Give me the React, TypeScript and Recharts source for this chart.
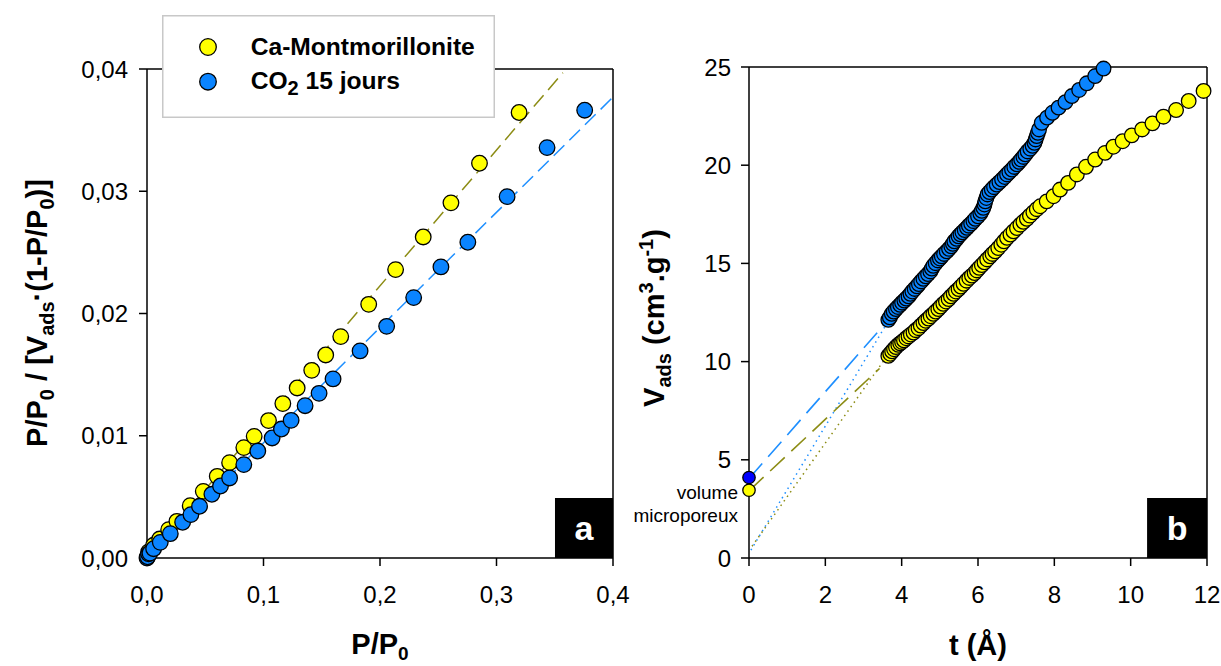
import React from 'react';
import {
  ComposedChart,
  Scatter,
  Line,
  XAxis,
  YAxis,
  ReferenceArea,
  ReferenceLine,
  Legend,
} from 'recharts';

const FONT = '"Liberation Sans", Arial, Helvetica, sans-serif';
const YELLOW = '#FFFF00';
const BLUE = '#0A84FF';
const OLIVE = '#8C8C14';
const LINE_BLUE = '#1E8FFF';
const DARK_BLUE = '#0000FF';

// ---------- Panel a : BET plot ----------
const aXTicks = [0, 0.1, 0.2, 0.3, 0.4];
const aYTicks = [0, 0.01, 0.02, 0.03, 0.04];

const caX = [0.0003, 0.0014, 0.0057, 0.0109, 0.0186, 0.0257, 0.0371, 0.0483, 0.0603, 0.0709, 0.0831, 0.092, 0.1043, 0.1166, 0.1289, 0.1414, 0.1534, 0.1663, 0.1903, 0.2134, 0.2371, 0.2609, 0.2854, 0.3194];
const caY = [0.0001, 0.0005, 0.00104, 0.00155, 0.00232, 0.003, 0.00428, 0.00545, 0.00668, 0.0078, 0.00903, 0.00995, 0.01124, 0.01263, 0.01391, 0.01535, 0.01661, 0.01811, 0.02075, 0.02359, 0.02626, 0.02905, 0.03229, 0.03644];

const co2X = [0.0, 0.0005, 0.0014, 0.0025, 0.0057, 0.0114, 0.02, 0.0306, 0.0377, 0.0451, 0.0557, 0.0631, 0.0709, 0.0831, 0.0951, 0.1074, 0.1154, 0.1237, 0.1357, 0.1477, 0.1597, 0.1829, 0.2057, 0.2289, 0.2523, 0.2754, 0.3091, 0.3434, 0.3757];
const co2Y = [0.0, 0.0001, 0.00035, 0.0004, 0.00076, 0.00128, 0.00199, 0.00292, 0.00355, 0.00423, 0.00521, 0.00589, 0.00655, 0.00764, 0.00875, 0.00982, 0.01055, 0.01126, 0.01246, 0.01347, 0.01465, 0.01694, 0.01895, 0.0213, 0.02381, 0.02583, 0.02956, 0.03357, 0.03663];

const fitCaX = [0, 0.357];
const fitCaY = [0.00005, 0.0397];
const fitCo2X = [0, 0.4];
const fitCo2Y = [0, 0.0377];

// ---------- Panel b : t-plot ----------
const bXTicks = [0, 2, 4, 6, 8, 10, 12];
const bYTicks = [0, 5, 10, 15, 20, 25];

const caT = [3.65, 3.7, 3.75, 3.8, 3.85, 3.91, 3.96, 4.01, 4.06, 4.12, 4.18, 4.24, 4.31, 4.37, 4.44, 4.5, 4.57, 4.63, 4.7, 4.76, 4.83, 4.89, 4.96, 5.02, 5.09, 5.16, 5.23, 5.29, 5.36, 5.42, 5.49, 5.55, 5.62, 5.7, 5.77, 5.84, 5.91, 5.97, 6.03, 6.1, 6.17, 6.24, 6.32, 6.38, 6.45, 6.53, 6.61, 6.68, 6.76, 6.85, 6.93, 7.02, 7.11, 7.19, 7.28, 7.36, 7.45, 7.54, 7.63, 7.8, 7.98, 8.15, 8.36, 8.59, 8.83, 9.07, 9.33, 9.55, 9.79, 10.03, 10.3, 10.57, 10.86, 11.19, 11.52, 11.91];
const caV = [10.29, 10.4, 10.52, 10.63, 10.74, 10.85, 10.93, 11.0, 11.08, 11.19, 11.28, 11.38, 11.48, 11.6, 11.7, 11.83, 11.96, 12.08, 12.19, 12.31, 12.43, 12.55, 12.67, 12.8, 12.94, 13.06, 13.18, 13.32, 13.45, 13.57, 13.69, 13.82, 13.96, 14.12, 14.26, 14.38, 14.51, 14.64, 14.77, 14.91, 15.05, 15.2, 15.36, 15.48, 15.61, 15.78, 15.95, 16.12, 16.3, 16.47, 16.63, 16.8, 16.97, 17.12, 17.27, 17.43, 17.6, 17.76, 17.91, 18.16, 18.42, 18.76, 19.1, 19.53, 19.92, 20.29, 20.63, 20.94, 21.22, 21.52, 21.82, 22.13, 22.47, 22.81, 23.27, 23.78];

const co2T = [3.65, 3.69, 3.74, 3.79, 3.85, 3.9, 3.96, 4.01, 4.07, 4.12, 4.18, 4.23, 4.28, 4.34, 4.4, 4.45, 4.51, 4.57, 4.63, 4.69, 4.75, 4.79, 4.83, 4.89, 4.95, 5.0, 5.05, 5.11, 5.18, 5.24, 5.3, 5.34, 5.38, 5.44, 5.49, 5.54, 5.59, 5.65, 5.71, 5.76, 5.82, 5.88, 5.93, 6.0, 6.06, 6.1, 6.14, 6.17, 6.19, 6.22, 6.25, 6.3, 6.36, 6.42, 6.49, 6.56, 6.63, 6.7, 6.76, 6.82, 6.89, 6.95, 7.02, 7.08, 7.13, 7.19, 7.24, 7.3, 7.37, 7.43, 7.48, 7.51, 7.54, 7.57, 7.6, 7.67, 7.81, 7.95, 8.11, 8.29, 8.46, 8.65, 8.85, 9.07, 9.29];
const co2V = [12.13, 12.25, 12.43, 12.55, 12.67, 12.78, 12.89, 13.0, 13.11, 13.21, 13.32, 13.45, 13.57, 13.7, 13.83, 13.95, 14.08, 14.21, 14.34, 14.46, 14.59, 14.74, 14.88, 15.01, 15.15, 15.25, 15.36, 15.48, 15.61, 15.74, 15.87, 16.0, 16.12, 16.25, 16.38, 16.48, 16.58, 16.7, 16.81, 16.92, 17.03, 17.15, 17.27, 17.4, 17.54, 17.68, 17.83, 18.0, 18.16, 18.33, 18.51, 18.63, 18.76, 18.88, 19.01, 19.14, 19.27, 19.4, 19.53, 19.65, 19.78, 19.91, 20.04, 20.17, 20.29, 20.42, 20.55, 20.7, 20.84, 20.99, 21.14, 21.31, 21.48, 21.65, 21.82, 22.16, 22.42, 22.67, 22.93, 23.21, 23.52, 23.83, 24.17, 24.54, 24.92];

// micropore volume intercepts (t = 0)
const microCaT = [0];
const microCaV = [3.45];
const microCo2T = [0];
const microCo2V = [4.1];

// extrapolation lines
const dashCaT = [0, 3.42];
const dashCaV = [3.42, 9.65];
const dashCo2T = [0, 3.6];
const dashCo2V = [4.05, 12.0];
const dotCaT = [0.08, 3.55];
const dotCaV = [0.6, 10.1];
const dotCo2T = [0.05, 3.6];
const dotCo2V = [0.4, 11.9];

const zip = (xs: number[], ys: number[]) => xs.map((x, i) => ({ x, y: ys[i] }));

const dot = (fill: string, r: number) => (props: any) => {
  if (props.cx == null || props.cy == null) return <g />;
  return <circle cx={props.cx} cy={props.cy} r={r} fill={fill} stroke="#000" strokeWidth={1.3} />;
};

const axisStyle = { stroke: '#000', strokeWidth: 1.5 };
const tickStyle = { fontSize: 24, fill: '#000', fontFamily: FONT };

const fmtX = (v: number) => v.toFixed(1).replace('.', ',');
const fmtY = (v: number) => v.toFixed(2).replace('.', ',');

const LegendBox = () => (
  <svg width={333} height={103} style={{ display: 'block' }}>
    <rect x={0.75} y={0.75} width={331.5} height={101.5} fill="#fff" stroke="#c8c8c8" strokeWidth={1.5} />
    <circle cx={46} cy={32} r={8.3} fill={YELLOW} stroke="#000" strokeWidth={1.3} />
    <circle cx={46} cy={66.7} r={8.3} fill={BLUE} stroke="#000" strokeWidth={1.3} />
    <text x={88.7} y={40} fontSize={24.6} fontWeight="bold" fontFamily={FONT} fill="#000">
      Ca-Montmorillonite
    </text>
    <text x={88.7} y={74} fontSize={24.6} fontWeight="bold" fontFamily={FONT} fill="#000">
      <tspan>CO</tspan>
      <tspan fontSize={20} dy={6}>2</tspan>
      <tspan dy={-6}>{' 15 jours'}</tspan>
    </text>
  </svg>
);

export default function App() {
  return (
    <div
      style={{
        position: 'fixed',
        left: 0,
        top: 0,
        width: 1221,
        height: 666,
        background: '#fff',
        fontFamily: FONT,
        overflow: 'hidden',
      }}
    >
      <div style={{ position: 'absolute', left: 0, top: 0 }}>
        <ComposedChart width={640} height={666} margin={{ top: 69, right: 27, bottom: 28, left: 47 }}>
          <XAxis
            type="number"
            dataKey="x"
            domain={[0, 0.4]}
            ticks={aXTicks}
            tickFormatter={fmtX}
            height={80}
            axisLine={axisStyle}
            tickLine={axisStyle}
            tickSize={8}
            tickMargin={20}
            tick={tickStyle}
          />
          <YAxis
            type="number"
            domain={[0, 0.04]}
            ticks={aYTicks}
            tickFormatter={fmtY}
            width={100}
            axisLine={axisStyle}
            tickLine={axisStyle}
            tickSize={8}
            tickMargin={11}
            tick={tickStyle}
          />
          <ReferenceLine y={0.04} stroke="#000" strokeWidth={1.5} />
          <ReferenceLine x={0.4} stroke="#000" strokeWidth={1.5} />
          <ReferenceArea
            x1={0.3502}
            x2={0.4}
            y1={0}
            y2={0.0049}
            fill="#000"
            fillOpacity={1}
            stroke="none"
            label={{ value: 'a', position: 'center', fill: '#fff', fontSize: 34, fontWeight: 'bold' }}
          />
          <Line data={zip(fitCaX, fitCaY)} dataKey="y" type="linear" stroke={OLIVE} strokeWidth={1.5} strokeDasharray="15 7" dot={false} activeDot={false} isAnimationActive={false} />
          <Line data={zip(fitCo2X, fitCo2Y)} dataKey="y" type="linear" stroke={LINE_BLUE} strokeWidth={1.5} strokeDasharray="15 7" dot={false} activeDot={false} isAnimationActive={false} />
          <Scatter name="Ca-Montmorillonite" data={zip(caX, caY)} dataKey="y" fill={YELLOW} shape={dot(YELLOW, 7.8)} isAnimationActive={false} />
          <Scatter name="CO2 15 jours" data={zip(co2X, co2Y)} dataKey="y" fill={BLUE} shape={dot(BLUE, 7.8)} isAnimationActive={false} />
          <Legend
            layout="horizontal"
            verticalAlign="middle"
            align="center"
            content={() => <LegendBox />}
            wrapperStyle={{ position: 'absolute', left: 162, top: 15, width: 333, height: 103 }}
          />
        </ComposedChart>
      </div>

      <div style={{ position: 'absolute', left: 640, top: 0 }}>
        <ComposedChart width={581} height={666} margin={{ top: 67, right: 14, bottom: 28, left: 9 }}>
          <XAxis
            type="number"
            dataKey="x"
            domain={[0, 12]}
            ticks={bXTicks}
            height={80}
            axisLine={axisStyle}
            tickLine={axisStyle}
            tickSize={8}
            tickMargin={20}
            tick={tickStyle}
          />
          <YAxis
            type="number"
            domain={[0, 25]}
            ticks={bYTicks}
            width={100}
            axisLine={axisStyle}
            tickLine={axisStyle}
            tickSize={8}
            tickMargin={10}
            tick={tickStyle}
          />
          <ReferenceLine y={25} stroke="#000" strokeWidth={1.5} />
          <ReferenceLine x={12} stroke="#000" strokeWidth={1.5} />
          <ReferenceArea
            x1={10.43}
            x2={12}
            y1={0}
            y2={3.05}
            fill="#000"
            fillOpacity={1}
            stroke="none"
            label={{ value: 'b', position: 'center', fill: '#fff', fontSize: 34, fontWeight: 'bold' }}
          />
          <Line data={zip(dotCo2T, dotCo2V)} dataKey="y" type="linear" stroke={LINE_BLUE} strokeWidth={1.5} strokeDasharray="1.5 4" dot={false} activeDot={false} isAnimationActive={false} />
          <Line data={zip(dotCaT, dotCaV)} dataKey="y" type="linear" stroke={OLIVE} strokeWidth={1.5} strokeDasharray="1.5 4" dot={false} activeDot={false} isAnimationActive={false} />
          <Line data={zip(dashCo2T, dashCo2V)} dataKey="y" type="linear" stroke={LINE_BLUE} strokeWidth={1.6} strokeDasharray="20 9" dot={false} activeDot={false} isAnimationActive={false} />
          <Line data={zip(dashCaT, dashCaV)} dataKey="y" type="linear" stroke={OLIVE} strokeWidth={1.6} strokeDasharray="20 9" dot={false} activeDot={false} isAnimationActive={false} />
          <Scatter data={zip(caT, caV)} dataKey="y" fill={YELLOW} shape={dot(YELLOW, 7.3)} isAnimationActive={false} />
          <Scatter data={zip(co2T, co2V)} dataKey="y" fill={BLUE} shape={dot(BLUE, 7.3)} isAnimationActive={false} />
          <Scatter data={zip(microCaT, microCaV)} dataKey="y" fill={YELLOW} shape={dot(YELLOW, 6.2)} isAnimationActive={false} />
          <Scatter data={zip(microCo2T, microCo2V)} dataKey="y" fill={DARK_BLUE} shape={dot(DARK_BLUE, 6.2)} isAnimationActive={false} />
        </ComposedChart>
      </div>

      <svg
        width={1221}
        height={666}
        style={{ position: 'absolute', left: 0, top: 0, pointerEvents: 'none' }}
        fontFamily={FONT}
      >
        {/* panel a axis titles */}
        <text x={380} y={654} textAnchor="middle" fontSize={29} fontWeight="bold" fill="#000">
          <tspan>P/P</tspan>
          <tspan fontSize={19} dy={6}>0</tspan>
        </text>
        <text transform="translate(47,313) rotate(-90)" x={0} y={0} textAnchor="middle" fontSize={29} fontWeight="bold" fill="#000">
          <tspan>P/P</tspan>
          <tspan fontSize={20} dy={7}>0</tspan>
          <tspan dy={-7}>{' / [V'}</tspan>
          <tspan fontSize={20} dy={7}>ads</tspan>
          <tspan dy={-7}>{'·(1-P/P'}</tspan>
          <tspan fontSize={20} dy={7}>0</tspan>
          <tspan dy={-7}>{')]'}</tspan>
        </text>

        {/* panel b axis titles */}
        <text x={978} y={655} textAnchor="middle" fontSize={29} fontWeight="bold" fill="#000">
          t (Å)
        </text>
        <text transform="translate(664,318) rotate(-90)" x={0} y={0} textAnchor="middle" fontSize={29} fontWeight="bold" fill="#000">
          <tspan>V</tspan>
          <tspan fontSize={20} dy={7}>ads</tspan>
          <tspan dy={-7}>{' (cm'}</tspan>
          <tspan fontSize={20} dy={-11}>3</tspan>
          <tspan dy={11}>{'.g'}</tspan>
          <tspan fontSize={20} dy={-11}>-1</tspan>
          <tspan dy={11}>{')'}</tspan>
        </text>

        <text x={738} y={499} textAnchor="end" fontSize={19} fill="#000">volume</text>
        <text x={738} y={522} textAnchor="end" fontSize={19} fill="#000">microporeux</text>
      </svg>
    </div>
  );
}
